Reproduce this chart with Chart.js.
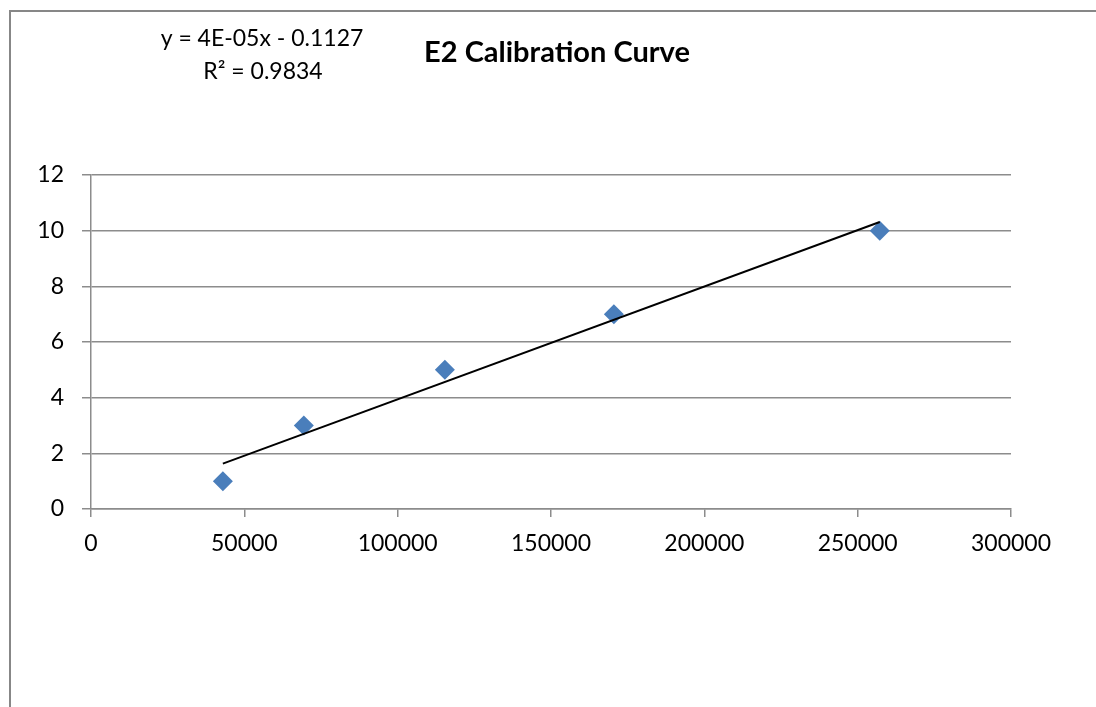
<!DOCTYPE html>
<html lang="en">
<head>
  <meta charset="UTF-8">
  <title>E2 Calibration Curve</title>
  <script src="https://cdn.jsdelivr.net/npm/chart.js"></script>
  <style>
    body {
      margin: 0;
      background: #fff;
    }
    #wrap {
      position: relative;
      width: 1096px;
      height: 707px;
    }
  </style>
</head>
<body>
  <div id="wrap">
    <canvas id="calChart" width="1096" height="707"></canvas>
  </div>

  <script>
    // measured standards (peak area vs. concentration)
    const peakAreas = [43000, 69400, 115400, 170500, 257200];
    const concentrations = [1, 3, 5, 7, 10];

    // linear trendline, endpoints
    const trendX = [43000, 257200];
    const trendY = [1.63, 10.31];

    const xTicks = [0, 50000, 100000, 150000, 200000, 250000, 300000];
    const yTicks = [0, 2, 4, 6, 8, 10, 12];

    const chartTitle = 'E2 Calibration Curve';
    const equationLines = ['y = 4E-05x - 0.1127', 'R² = 0.9834'];

    const FONT = 'Lato, "Open Sans", sans-serif';
    const GRID = '#8c8c8c';

    // outer chart frame + title + trendline label
    const decorations = {
      id: 'decorations',
      beforeDraw(chart) {
        const ctx = chart.ctx;
        ctx.save();
        ctx.strokeStyle = '#878787';
        ctx.lineWidth = 2;
        ctx.beginPath();
        ctx.moveTo(10, 707);
        ctx.lineTo(10, 11);
        ctx.lineTo(1096, 11);
        ctx.stroke();
        ctx.restore();
      },
      afterDraw(chart) {
        const ctx = chart.ctx;
        ctx.save();
        ctx.fillStyle = '#000';
        ctx.textAlign = 'center';
        ctx.textBaseline = 'middle';
        ctx.font = 'bold 29px ' + FONT;
        ctx.fillText(chartTitle, 557, 53);
        ctx.font = '23px ' + FONT;
        ctx.fillText(equationLines[0], 262, 39);
        ctx.fillText(equationLines[1], 263, 72);
        ctx.restore();
      }
    };

    const ctx = document.getElementById('calChart');
    new Chart(ctx, {
      data: {
        datasets: [
          {
            type: 'scatter',
            label: 'Standards',
            data: peakAreas.map((a, i) => ({ x: a, y: concentrations[i] })),
            pointStyle: 'rectRot',
            pointRadius: 10,
            pointHoverRadius: 10,
            backgroundColor: '#4a7ebb',
            borderColor: '#4a7ebb',
            borderWidth: 0,
            order: 2
          },
          {
            type: 'line',
            label: 'Linear fit',
            data: trendX.map((x, i) => ({ x: x, y: trendY[i] })),
            borderColor: '#000',
            borderWidth: 2,
            pointRadius: 0,
            fill: false,
            order: 1
          }
        ]
      },
      options: {
        responsive: false,
        animation: false,
        events: [],
        layout: {
          padding: { left: 0, right: 85, top: 175, bottom: 0 }
        },
        plugins: {
          legend: { display: false },
          title: { display: false },
          tooltip: { enabled: false }
        },
        scales: {
          x: {
            type: 'linear',
            min: 0,
            max: 300000,
            afterFit: s => { s.height = 198; },
            afterBuildTicks: s => { s.ticks = xTicks.map(v => ({ value: v })); },
            grid: {
              drawOnChartArea: false,
              color: GRID,
              lineWidth: 1.5,
              tickLength: 8
            },
            border: { color: GRID, width: 1.5 },
            ticks: {
              color: '#000',
              font: { family: FONT, size: 23 },
              padding: 13,
              maxRotation: 0,
              callback: v => String(v)
            }
          },
          y: {
            type: 'linear',
            min: 0,
            max: 12,
            afterFit: s => { s.width = 91; },
            afterBuildTicks: s => { s.ticks = yTicks.map(v => ({ value: v })); },
            grid: {
              color: GRID,
              lineWidth: 1.5,
              tickLength: 9
            },
            border: { color: GRID, width: 1.5 },
            ticks: {
              color: '#000',
              font: { family: FONT, size: 23 },
              padding: 18,
              callback: v => String(v)
            }
          }
        }
      },
      plugins: [decorations]
    });
  </script>
</body>
</html>
